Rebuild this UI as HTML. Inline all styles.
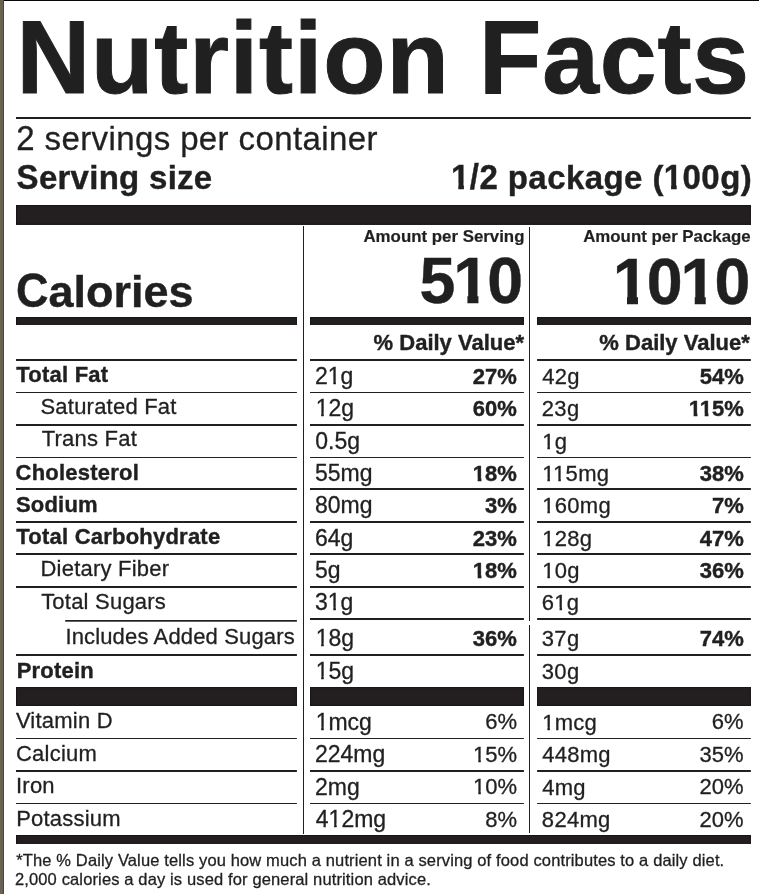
<!DOCTYPE html>
<html lang="en">
<head>
<meta charset="utf-8">
<title>Nutrition Facts</title>
<style>
html,body{margin:0;padding:0;background:#fff;}
body{width:759px;height:894px;position:relative;overflow:hidden;font-family:"Liberation Sans",sans-serif;color:#231f20;}
svg{position:absolute;left:0;top:0;}
#tx{position:absolute;left:0;top:0;width:759px;height:894px;filter:grayscale(1);}
.t{position:absolute;white-space:nowrap;line-height:1;font-weight:400;-webkit-text-stroke:0.3px #231f20;}
.b{font-weight:700;-webkit-text-stroke:0.4px #231f20;}
.l{transform-origin:0 84.65%;}
.r{transform-origin:100% 84.65%;}
.o{display:inline-block;clip-path:polygon(-0.1em -0.2em,0.7em -0.2em,0.7em 0.70em,0.352em 0.70em,0.352em 1.2em,0.24em 1.2em,0.24em 0.70em,-0.1em 0.70em);}
.b .o{clip-path:polygon(-0.1em -0.2em,0.7em -0.2em,0.7em 0.67em,0.39em 0.67em,0.39em 1.2em,0.22em 1.2em,0.22em 0.67em,-0.1em 0.67em);}
.k{margin-left:-0.0742em;}
.b .k{margin-left:-0.0552em;}
.cap{display:inline-block;transform:scaleY(var(--cs,1.04));transform-origin:0 84.65%;}
</style>
</head>
<body>
<svg width="759" height="894" viewBox="0 0 759 894">
<rect x="0.00" y="0.00" width="3.00" height="894.00" fill="#69624f"/>
<rect x="3.00" y="0.00" width="1.00" height="894.00" fill="#494644"/>
<rect x="4.00" y="0.00" width="755.00" height="1.00" fill="#090505"/>
<rect x="16.00" y="117.00" width="734.85" height="2.00" fill="#231f20"/>
<rect x="16.00" y="205.00" width="734.85" height="19.80" fill="#231f20"/>
<rect x="16.00" y="205.00" width="734.85" height="1.00" fill="#181415"/>
<rect x="16.00" y="223.80" width="734.85" height="1.00" fill="#181415"/>
<rect x="16.00" y="205.00" width="1.00" height="19.80" fill="#181415"/>
<rect x="749.85" y="205.00" width="1.00" height="19.80" fill="#181415"/>
<rect x="303.00" y="226.00" width="1.00" height="608.00" fill="#231f20"/>
<rect x="529.00" y="227.00" width="1.00" height="394.00" fill="#231f20"/>
<rect x="529.00" y="625.00" width="1.00" height="208.00" fill="#231f20"/>
<rect x="16.00" y="317.10" width="280.90" height="7.70" fill="#231f20"/>
<rect x="16.00" y="317.10" width="280.90" height="1.00" fill="#181415"/>
<rect x="16.00" y="323.80" width="280.90" height="1.00" fill="#181415"/>
<rect x="16.00" y="317.10" width="1.00" height="7.70" fill="#181415"/>
<rect x="295.90" y="317.10" width="1.00" height="7.70" fill="#181415"/>
<rect x="310.00" y="317.10" width="213.90" height="7.70" fill="#231f20"/>
<rect x="310.00" y="317.10" width="213.90" height="1.00" fill="#181415"/>
<rect x="310.00" y="323.80" width="213.90" height="1.00" fill="#181415"/>
<rect x="310.00" y="317.10" width="1.00" height="7.70" fill="#181415"/>
<rect x="522.90" y="317.10" width="1.00" height="7.70" fill="#181415"/>
<rect x="537.10" y="317.10" width="213.75" height="7.70" fill="#231f20"/>
<rect x="537.10" y="317.10" width="213.75" height="1.00" fill="#181415"/>
<rect x="537.10" y="323.80" width="213.75" height="1.00" fill="#181415"/>
<rect x="537.10" y="317.10" width="1.00" height="7.70" fill="#181415"/>
<rect x="749.85" y="317.10" width="1.00" height="7.70" fill="#181415"/>
<rect x="16.00" y="359.00" width="280.90" height="2.00" fill="#231f20"/>
<rect x="310.00" y="359.00" width="213.90" height="2.00" fill="#231f20"/>
<rect x="537.10" y="359.00" width="213.75" height="2.00" fill="#231f20"/>
<rect x="16.00" y="392.00" width="280.90" height="1.00" fill="#231f20"/>
<rect x="310.00" y="392.00" width="213.90" height="1.00" fill="#231f20"/>
<rect x="537.10" y="392.00" width="213.75" height="1.00" fill="#231f20"/>
<rect x="16.00" y="424.00" width="280.90" height="2.00" fill="#231f20"/>
<rect x="310.00" y="424.00" width="213.90" height="2.00" fill="#231f20"/>
<rect x="537.10" y="424.00" width="213.75" height="2.00" fill="#231f20"/>
<rect x="16.00" y="457.00" width="280.90" height="1.00" fill="#231f20"/>
<rect x="310.00" y="457.00" width="213.90" height="1.00" fill="#231f20"/>
<rect x="537.10" y="457.00" width="213.75" height="1.00" fill="#231f20"/>
<rect x="16.00" y="488.00" width="280.90" height="2.00" fill="#231f20"/>
<rect x="310.00" y="488.00" width="213.90" height="2.00" fill="#231f20"/>
<rect x="537.10" y="488.00" width="213.75" height="2.00" fill="#231f20"/>
<rect x="16.00" y="521.00" width="280.90" height="2.00" fill="#231f20"/>
<rect x="310.00" y="521.00" width="213.90" height="2.00" fill="#231f20"/>
<rect x="537.10" y="521.00" width="213.75" height="2.00" fill="#231f20"/>
<rect x="16.00" y="553.00" width="280.90" height="2.00" fill="#231f20"/>
<rect x="310.00" y="553.00" width="213.90" height="2.00" fill="#231f20"/>
<rect x="537.10" y="553.00" width="213.75" height="2.00" fill="#231f20"/>
<rect x="16.00" y="586.00" width="280.90" height="2.00" fill="#231f20"/>
<rect x="310.00" y="586.00" width="213.90" height="2.00" fill="#231f20"/>
<rect x="537.10" y="586.00" width="213.75" height="2.00" fill="#231f20"/>
<rect x="65.20" y="620.00" width="231.70" height="1.70" fill="#231f20"/>
<rect x="310.00" y="618.00" width="213.90" height="2.00" fill="#231f20"/>
<rect x="537.10" y="618.00" width="213.75" height="2.00" fill="#231f20"/>
<rect x="16.00" y="654.00" width="280.90" height="2.00" fill="#231f20"/>
<rect x="310.00" y="654.00" width="213.90" height="2.00" fill="#231f20"/>
<rect x="537.10" y="654.00" width="213.75" height="2.00" fill="#231f20"/>
<rect x="16.00" y="687.10" width="280.90" height="18.80" fill="#231f20"/>
<rect x="16.00" y="687.10" width="280.90" height="1.00" fill="#181415"/>
<rect x="16.00" y="704.90" width="280.90" height="1.00" fill="#181415"/>
<rect x="16.00" y="687.10" width="1.00" height="18.80" fill="#181415"/>
<rect x="295.90" y="687.10" width="1.00" height="18.80" fill="#181415"/>
<rect x="310.00" y="687.10" width="213.90" height="18.80" fill="#231f20"/>
<rect x="310.00" y="687.10" width="213.90" height="1.00" fill="#181415"/>
<rect x="310.00" y="704.90" width="213.90" height="1.00" fill="#181415"/>
<rect x="310.00" y="687.10" width="1.00" height="18.80" fill="#181415"/>
<rect x="522.90" y="687.10" width="1.00" height="18.80" fill="#181415"/>
<rect x="537.10" y="687.10" width="213.75" height="18.80" fill="#231f20"/>
<rect x="537.10" y="687.10" width="213.75" height="1.00" fill="#181415"/>
<rect x="537.10" y="704.90" width="213.75" height="1.00" fill="#181415"/>
<rect x="537.10" y="687.10" width="1.00" height="18.80" fill="#181415"/>
<rect x="749.85" y="687.10" width="1.00" height="18.80" fill="#181415"/>
<rect x="16.00" y="738.00" width="280.90" height="1.00" fill="#231f20"/>
<rect x="310.00" y="738.00" width="213.90" height="1.00" fill="#231f20"/>
<rect x="537.10" y="738.00" width="213.75" height="1.00" fill="#231f20"/>
<rect x="16.00" y="770.00" width="280.90" height="2.00" fill="#231f20"/>
<rect x="310.00" y="770.00" width="213.90" height="2.00" fill="#231f20"/>
<rect x="537.10" y="770.00" width="213.75" height="2.00" fill="#231f20"/>
<rect x="16.00" y="803.00" width="280.90" height="1.00" fill="#231f20"/>
<rect x="310.00" y="803.00" width="213.90" height="1.00" fill="#231f20"/>
<rect x="537.10" y="803.00" width="213.75" height="1.00" fill="#231f20"/>
<rect x="16.00" y="835.00" width="734.85" height="8.80" fill="#231f20"/>
<rect x="16.00" y="835.00" width="734.85" height="1.00" fill="#181415"/>
<rect x="16.00" y="842.80" width="734.85" height="1.00" fill="#181415"/>
<rect x="16.00" y="835.00" width="1.00" height="8.80" fill="#181415"/>
<rect x="749.85" y="835.00" width="1.00" height="8.80" fill="#181415"/>
</svg>
<div id="tx">
<div id="title" class="t b l" style="font-size:102px;top:6.77px;left:16.50px;-webkit-text-stroke:1.0px #231f20;letter-spacing:0.92px;--cs:1.025"><span class="cap">N</span>utrition <span class="cap">F</span>acts</div>
<div id="spc" class="t l" style="font-size:33px;top:122.07px;left:16.30px;letter-spacing:0.387px"><span class="cap">2</span> servings per container</div>
<div id="ss" class="t b l" style="font-size:33px;top:161.07px;left:16.59px;letter-spacing:0.275px"><span class="cap">S</span>erving size</div>
<div id="ssv" class="t b r" style="font-size:33px;top:161.07px;right:6.86px;letter-spacing:0.42px"><span class="cap"><span class="o">1</span>/2</span> package (<span class="cap"><span class="o">1</span>00</span>g)</div>
<div id="cal" class="t b l" style="font-size:45px;top:268.70px;left:15.90px;--cs:1.065"><span class="cap">C</span>alories</div>
<div id="aps" class="t b r" style="font-size:16.85px;top:229.00px;right:234.57px;-webkit-text-stroke:0.2px #231f20">Amount per Serving</div>
<div id="app" class="t b r" style="font-size:16.85px;top:229.00px;right:8.25px;-webkit-text-stroke:0.2px #231f20">Amount per Package</div>
<div id="c1" class="t b r" style="font-size:64.5px;top:248.93px;right:238.00px;letter-spacing:-2.0px">5<span class="o">1</span>0</div>
<div id="c2" class="t b r" style="font-size:64.5px;top:249.73px;right:10.70px;letter-spacing:-2.0px"><span class="o">1</span>0<span class="o">1</span>0</div>
<div id="dv1" class="t b r" style="font-size:22px;top:331.88px;right:235.00px">% Daily Value*</div>
<div id="dv2" class="t b r" style="font-size:22px;top:331.88px;right:9.24px">% Daily Value*</div>
<div id="r0l" class="t b l" style="font-size:22px;top:363.58px;left:16.34px;letter-spacing:0.22px">Total Fat</div>
<div id="r0v1" class="t l" style="font-size:23px;top:365.46px;left:315.00px">2<span class="o">1</span>g</div>
<div id="r0p1" class="t b r" style="font-size:22px;top:366.31px;right:242.12px">27%</div>
<div id="r0v2" class="t l" style="font-size:22px;top:366.31px;left:542.14px;letter-spacing:0.3px">42g</div>
<div id="r0p2" class="t b r" style="font-size:22px;top:366.34px;right:15.12px">54%</div>
<div id="r1l" class="t l" style="font-size:22px;top:396.13px;left:40.47px;letter-spacing:0.22px">Saturated Fat</div>
<div id="r1v1" class="t l" style="font-size:23px;top:397.46px;left:315.67px"><span class="o">1</span>2g</div>
<div id="r1p1" class="t b r" style="font-size:22px;top:398.37px;right:242.12px">60%</div>
<div id="r1v2" class="t l" style="font-size:22px;top:398.31px;left:541.83px;letter-spacing:0.3px">23g</div>
<div id="r1p2" class="t b r" style="font-size:22px;top:398.31px;right:15.12px"><span class="o">1</span><span class="o k">1</span>5%</div>
<div id="r2l" class="t l" style="font-size:22px;top:427.68px;left:41.73px;letter-spacing:0.22px">Trans Fat</div>
<div id="r2v1" class="t l" style="font-size:23px;top:430.11px;left:315.27px">0.5g</div>
<div id="r2v2" class="t l" style="font-size:22px;top:430.91px;left:542.15px;letter-spacing:0.3px"><span class="o">1</span>g</div>
<div id="r3l" class="t b l" style="font-size:22px;top:461.58px;left:15.57px;letter-spacing:0.22px">Cholesterol</div>
<div id="r3v1" class="t l" style="font-size:23px;top:461.63px;left:315.00px">55mg</div>
<div id="r3p1" class="t b r" style="font-size:22px;top:462.94px;right:242.12px"><span class="o">1</span>8%</div>
<div id="r3v2" class="t l" style="font-size:22px;top:462.94px;left:542.15px;letter-spacing:0.3px"><span class="o">1</span><span class="o k">1</span>5mg</div>
<div id="r3p2" class="t b r" style="font-size:22px;top:463.04px;right:15.12px">38%</div>
<div id="r4l" class="t b l" style="font-size:22px;top:493.68px;left:15.88px;letter-spacing:0.22px">Sodium</div>
<div id="r4v1" class="t l" style="font-size:23px;top:493.63px;left:315.00px">80mg</div>
<div id="r4p1" class="t b r" style="font-size:22px;top:495.06px;right:242.12px">3%</div>
<div id="r4v2" class="t l" style="font-size:22px;top:494.94px;left:542.15px;letter-spacing:0.3px"><span class="o">1</span>60mg</div>
<div id="r4p2" class="t b r" style="font-size:22px;top:494.94px;right:15.12px">7%</div>
<div id="r5l" class="t b l" style="font-size:22px;top:526.31px;left:16.34px;letter-spacing:0.22px">Total Carbohydrate</div>
<div id="r5v1" class="t l" style="font-size:23px;top:526.50px;left:315.00px">64g</div>
<div id="r5p1" class="t b r" style="font-size:22px;top:527.84px;right:242.12px">23%</div>
<div id="r5v2" class="t l" style="font-size:22px;top:527.84px;left:542.15px;letter-spacing:0.3px"><span class="o">1</span>28g</div>
<div id="r5p2" class="t b r" style="font-size:22px;top:527.84px;right:15.12px">47%</div>
<div id="r6l" class="t l" style="font-size:22px;top:557.68px;left:40.47px;letter-spacing:0.22px">Dietary Fiber</div>
<div id="r6v1" class="t l" style="font-size:23px;top:558.59px;left:315.00px">5g</div>
<div id="r6p1" class="t b r" style="font-size:22px;top:560.31px;right:242.12px"><span class="o">1</span>8%</div>
<div id="r6v2" class="t l" style="font-size:22px;top:560.31px;left:542.15px;letter-spacing:0.3px"><span class="o">1</span>0g</div>
<div id="r6p2" class="t b r" style="font-size:22px;top:560.34px;right:15.12px">36%</div>
<div id="r7l" class="t l" style="font-size:22px;top:591.11px;left:41.13px;letter-spacing:0.22px">Total Sugars</div>
<div id="r7v1" class="t l" style="font-size:23px;top:590.83px;left:315.00px">3<span class="o">1</span>g</div>
<div id="r7v2" class="t l" style="font-size:22px;top:592.18px;left:541.77px;letter-spacing:0.3px">6<span class="o">1</span>g</div>
<div id="r8l" class="t l" style="font-size:22px;top:625.68px;left:65.40px;letter-spacing:0.15px">Includes Added Sugars</div>
<div id="r8v1" class="t l" style="font-size:23px;top:626.73px;left:315.67px"><span class="o">1</span>8g</div>
<div id="r8p1" class="t b r" style="font-size:22px;top:627.58px;right:242.12px">36%</div>
<div id="r8v2" class="t l" style="font-size:22px;top:627.58px;left:541.83px;letter-spacing:0.3px">37g</div>
<div id="r8p2" class="t b r" style="font-size:22px;top:627.58px;right:15.12px">74%</div>
<div id="r9l" class="t b l" style="font-size:22px;top:660.11px;left:16.70px;letter-spacing:0.22px">Protein</div>
<div id="r9v1" class="t l" style="font-size:23px;top:659.99px;left:315.67px"><span class="o">1</span>5g</div>
<div id="r9v2" class="t l" style="font-size:22px;top:660.91px;left:541.83px;letter-spacing:0.3px">30g</div>
<div id="r10l" class="t l" style="font-size:22px;top:709.91px;left:15.89px;letter-spacing:0.22px">Vitamin D</div>
<div id="r10v1" class="t l" style="font-size:23px;top:710.86px;left:315.67px"><span class="o">1</span>mcg</div>
<div id="r10p1" class="t r" style="font-size:22px;top:710.97px;right:241.92px;transform:scale(1.0,1.04)">6%</div>
<div id="r10v2" class="t l" style="font-size:22px;top:711.71px;left:542.15px;letter-spacing:0.3px"><span class="o">1</span>mcg</div>
<div id="r10p2" class="t r" style="font-size:22px;top:710.97px;right:15.42px;transform:scale(1.0,1.04)">6%</div>
<div id="r11l" class="t l" style="font-size:22px;top:742.56px;left:15.99px;letter-spacing:0.22px">Calcium</div>
<div id="r11v1" class="t l" style="font-size:23px;top:742.53px;left:315.00px">224mg</div>
<div id="r11p1" class="t r" style="font-size:22px;top:743.64px;right:241.92px;transform:scale(1.0,1.04)"><span class="o">1</span>5%</div>
<div id="r11v2" class="t l" style="font-size:22px;top:743.64px;left:542.14px;letter-spacing:0.3px">448mg</div>
<div id="r11p2" class="t r" style="font-size:22px;top:743.70px;right:15.42px;transform:scale(1.0,1.04)">35%</div>
<div id="r12l" class="t l" style="font-size:22px;top:775.11px;left:16.01px;letter-spacing:0.22px">Iron</div>
<div id="r12v1" class="t l" style="font-size:23px;top:775.99px;left:315.00px">2mg</div>
<div id="r12p1" class="t r" style="font-size:22px;top:775.76px;right:241.92px;transform:scale(1.0,1.04)"><span class="o">1</span>0%</div>
<div id="r12v2" class="t l" style="font-size:22px;top:777.06px;left:542.14px;letter-spacing:0.3px">4mg</div>
<div id="r12p2" class="t r" style="font-size:22px;top:775.76px;right:15.42px;transform:scale(1.0,1.04)">20%</div>
<div id="r13l" class="t l" style="font-size:22px;top:807.91px;left:16.17px;letter-spacing:0.22px">Potassium</div>
<div id="r13v1" class="t l" style="font-size:23px;top:807.53px;left:315.81px">4<span class="o">1</span>2mg</div>
<div id="r13p1" class="t r" style="font-size:22px;top:808.70px;right:241.92px;transform:scale(1.0,1.04)">8%</div>
<div id="r13v2" class="t l" style="font-size:22px;top:808.68px;left:541.86px;letter-spacing:0.3px">824mg</div>
<div id="r13p2" class="t r" style="font-size:22px;top:808.64px;right:15.42px;transform:scale(1.0,1.04)">20%</div>
<div id="fn1" class="t l" style="font-size:16.5px;top:851.63px;left:16.20px;letter-spacing:0.135px">*The % Daily Value tells you how much a nutrient in a serving of food contributes to a daily diet.</div>
<div id="fn2" class="t l" style="font-size:16.5px;top:871.29px;left:14.98px;letter-spacing:0.135px">2,000 calories a day is used for general nutrition advice.</div>
</div>
</body>
</html>
